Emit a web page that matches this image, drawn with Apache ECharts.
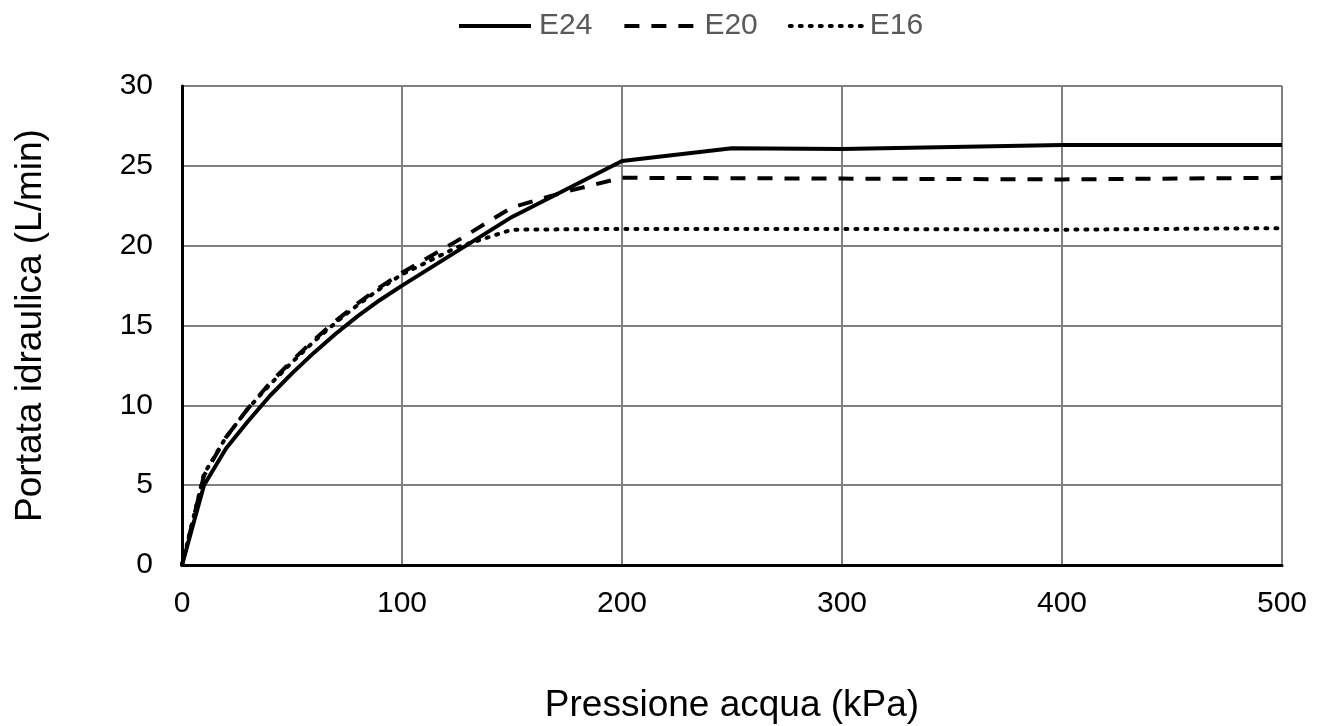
<!DOCTYPE html>
<html>
<head>
<meta charset="utf-8">
<script src="https://cdn.jsdelivr.net/npm/echarts@6/dist/echarts.min.js"></script>
<style>
  html, body { margin: 0; padding: 0; background: #fff; }
  #main { width: 1321px; height: 726px; }
</style>
</head>
<body>
<div id="main"></div>
<script>
// pressione (kPa) per ogni serie
var pressE24 = [0, 10, 20, 30, 40, 50, 60, 70, 80, 90, 100, 150, 200, 250, 300, 400, 500];
var flowE24 = [0, 5.0, 7.3, 9.0, 10.6, 12.0, 13.3, 14.5, 15.6, 16.6, 17.5, 21.8, 25.3, 26.1, 26.05, 26.3, 26.3];

var pressE20 = [0, 10, 20, 30, 40, 50, 60, 70, 80, 90, 100, 125, 150, 175, 200, 300, 400, 500];
var flowE20 = [0, 5.6, 8.0, 9.8, 11.4, 12.8, 14.1, 15.3, 16.4, 17.4, 18.3, 20.3, 22.4, 23.4, 24.25, 24.2, 24.15, 24.25];

var pressE16 = [0, 10, 20, 30, 40, 50, 60, 70, 80, 90, 100, 125, 150, 200, 300, 400, 500];
var flowE16 = [0, 5.7, 8.0, 9.8, 11.3, 12.7, 14.0, 15.2, 16.3, 17.3, 18.2, 19.9, 21.0, 21.05, 21.05, 21.0, 21.1];

var xTicks = [0, 100, 200, 300, 400, 500];

function pairs(xs, ys) {
  return xs.map(function (x, i) { return [x, ys[i]]; });
}

var chart = echarts.init(document.getElementById('main'));
var font = 'Liberation Sans, Arial, sans-serif';

var option = {
  animation: false,
  textStyle: { fontFamily: font },
  legend: {
    top: 11,
    left: 457,
    padding: 0,
    itemWidth: 72,
    itemHeight: 14,
    itemGap: 30,
    itemStyle: { opacity: 0 },
    lineStyle: { width: 4 },
    textStyle: { fontSize: 30, color: '#595959', fontFamily: font, padding: [0, 0, 0, 3] },
    data: ['E24', 'E20', 'E16']
  },
  grid: { left: 182, right: 39, top: 86, bottom: 161, outerBoundsMode: 'none' },
  xAxis: {
    type: 'value',
    min: 0,
    max: 500,
    interval: 100,
    name: 'Pressione acqua (kPa)',
    nameLocation: 'middle',
    nameGap: 122,
    nameTextStyle: { fontSize: 37, color: '#000', fontFamily: font },
    axisLine: { show: true, onZero: false, lineStyle: { color: '#000', width: 3 } },
    axisTick: { show: false },
    axisLabel: { fontSize: 30, color: '#000', margin: 24, fontFamily: font,
      formatter: function (v) { return xTicks.indexOf(v) >= 0 ? String(v) : ''; } },
    splitLine: { show: true, lineStyle: { color: '#808080', width: 2 } }
  },
  yAxis: {
    type: 'value',
    min: 0,
    max: 30,
    interval: 5,
    name: 'Portata idraulica (L/min)',
    nameLocation: 'middle',
    nameGap: 133,
    nameRotate: 90,
    nameTextStyle: { fontSize: 37, color: '#000', fontFamily: font },
    axisLine: { show: true, lineStyle: { color: '#000', width: 3 } },
    axisTick: { show: false },
    axisLabel: { fontSize: 30, color: '#000', margin: 29, fontFamily: font },
    splitLine: { show: true, lineStyle: { color: '#808080', width: 2 } }
  },
  series: [
    {
      name: 'E24',
      type: 'line',
      symbol: 'none',
      data: pairs(pressE24, flowE24),
      lineStyle: { color: '#000', width: 4, type: 'solid' },
      itemStyle: { color: '#000' },
      z: 5
    },
    {
      name: 'E20',
      type: 'line',
      symbol: 'none',
      data: pairs(pressE20, flowE20),
      lineStyle: { color: '#000', width: 4, type: [15, 12] },
      itemStyle: { color: '#000' },
      z: 4
    },
    {
      name: 'E16',
      type: 'line',
      symbol: 'none',
      data: pairs(pressE16, flowE16),
      lineStyle: { color: '#000', width: 4, type: [2, 8], cap: 'round' },
      itemStyle: { color: '#000' },
      z: 3
    }
  ]
};

chart.setOption(option);
</script>
</body>
</html>
